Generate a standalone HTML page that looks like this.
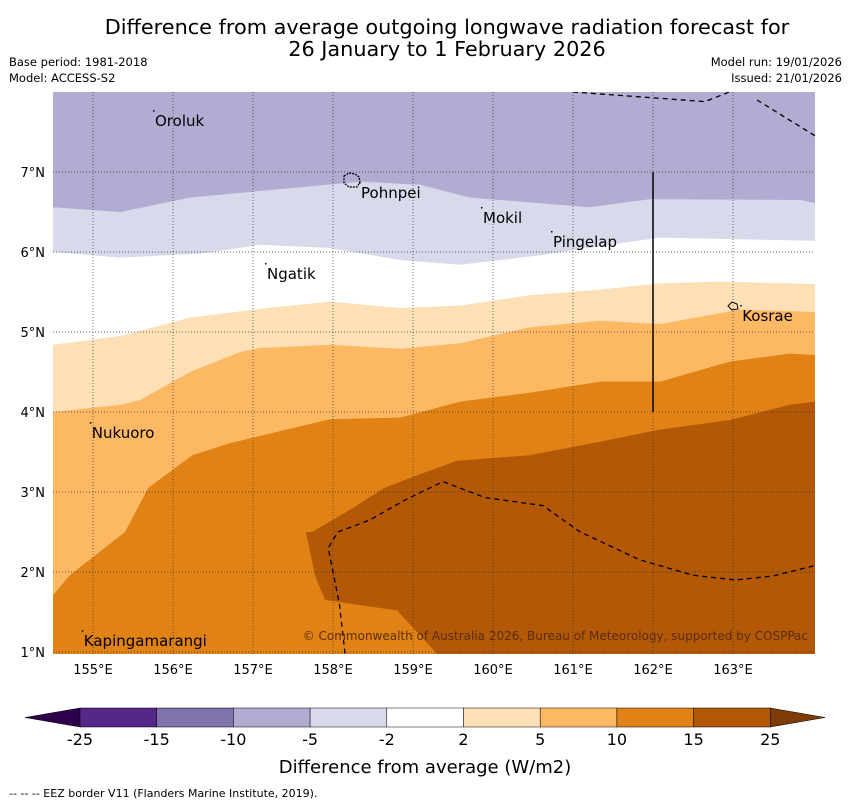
<!DOCTYPE html>
<html><head><meta charset="utf-8"><style>
body{margin:0;background:#fff;width:850px;height:804px;overflow:hidden;font-family:"Liberation Sans","DejaVu Sans",sans-serif}
</style></head><body>
<svg id="chart" width="850" height="804" xmlns="http://www.w3.org/2000/svg" font-family="DejaVu Sans, Liberation Sans, sans-serif">
<text x="447" y="34" font-size="20.8" text-anchor="middle">Difference from average outgoing longwave radiation forecast for</text>
<text x="447" y="56" font-size="20.8" text-anchor="middle">26 January to 1 February 2026</text>
<text x="9" y="66" font-size="11.5">Base period: 1981-2018</text>
<text x="9" y="82" font-size="11.5">Model: ACCESS-S2</text>
<text x="842" y="66" font-size="11.5" text-anchor="end">Model run: 19/01/2026</text>
<text x="842" y="82" font-size="11.5" text-anchor="end">Issued: 21/01/2026</text>
<defs><clipPath id="mapclip"><rect x="53" y="92" width="762" height="562"/></clipPath></defs>
<g id="map" clip-path="url(#mapclip)"></g>
<g id="overlay"></g>
<g id="cbar"></g>
<text x="425" y="773" font-size="18" text-anchor="middle">Difference from average (W/m2)</text>
<text x="9" y="797" font-size="11">--  --  -- EEZ border V11 (Flanders Marine Institute, 2019).</text>
</svg>
<script>
const lonTicks=[155,156,157,158,159,160,161,162,163];
const latTicks=[1,2,3,4,5,6,7];
const b1Lon=[154.5,155.34,156.21,157.59,158.34,159.09,159.71,161.21,161.96,163.84,164.03];
const b1Lat=[6.56,6.5,6.68,6.81,6.88,6.84,6.68,6.56,6.66,6.65,6.61];
const b2Lon=[154.5,155.34,156.34,157.09,157.96,158.84,159.59,160.59,161.59,162.09,164.03];
const b2Lat=[6.0,5.93,5.98,6.09,6.05,5.9,5.84,5.96,6.11,6.18,6.14];
const b3Lon=[154.5,155.34,156.21,157.09,157.96,158.84,159.59,160.46,161.34,162.09,162.84,164.03];
const b3Lat=[4.84,4.95,5.18,5.29,5.38,5.3,5.33,5.46,5.53,5.61,5.63,5.6];
const b4Lon=[154.5,155.34,155.59,156.21,156.84,157.09,157.96,158.84,159.59,160.46,161.34,162.09,163.09,164.03];
const b4Lat=[4.0,4.09,4.15,4.5,4.75,4.8,4.84,4.79,4.86,5.06,5.14,5.1,5.28,5.25];
const b5Lon=[154.5,154.71,155.4,155.69,156.24,156.71,157.96,158.84,159.59,160.46,161.34,162.09,162.96,163.71,164.03];
const b5Lat=[1.71,1.96,2.5,3.05,3.46,3.61,3.91,3.93,4.13,4.24,4.38,4.38,4.63,4.73,4.71];
const b6Lon=[157.74,158.2,158.64,158.95,159.55,160.46,161.34,162.09,162.96,163.71,164.1,164.1,159.4,159.3,158.8,157.9,157.78,157.66];
const b6Lat=[2.5,2.77,3.05,3.17,3.39,3.46,3.63,3.78,3.9,4.09,4.14,0.9,0.9,0.98,1.52,1.65,1.94,2.5];
const eez1Lon=[158.15,158.08,157.94,158.06,158.46,158.9,159.375,159.9,160.625,161.09,161.84,162.5,163.03,163.5,164.1];
const eez1Lat=[0.98,1.6,2.3,2.5,2.65,2.9,3.13,2.93,2.83,2.5,2.15,1.96,1.9,1.95,2.1];
const eez2Lon=[161.0,162.65,163.03];const eez2Lat=[8.0,7.88,8.03];
const eez3Lon=[163.3,164.03];const eez3Lat=[7.9,7.45];
const placeNames=["Oroluk","Pohnpei","Mokil","Pingelap","Ngatik","Kosrae","Nukuoro","Kapingamarangi"];
const placeLon=[155.75,158.325,159.85,160.725,157.15,163.09,154.96,154.86];
const placeLat=[7.71,6.81,6.5,6.2,5.8,5.275,3.81,1.21];
const cbLabels=["-25","-15","-10","-5","-2","2","5","10","15","25"];
const cbColors=["#542788","#8073ac","#b2abd2","#d8daeb","#ffffff","#fee0b6","#fdb863","#e08214","#b35806"];

const X=lon=>53+(lon-154.5)*80, Y=lat=>92+(8-lat)*80;
const NS="http://www.w3.org/2000/svg";
function mk(tag,attrs,parent){const e=document.createElementNS(NS,tag);for(const k in attrs)e.setAttribute(k,attrs[k]);parent.appendChild(e);return e;}
const map=document.getElementById('map'),ov=document.getElementById('overlay'),cb=document.getElementById('cbar');
function pts(lo,la){return lo.map((v,i)=>X(v)+','+Y(la[i])).join(' ');}
let bg=mk('rect',{x:53,y:92,width:762,height:562,fill:'#b2abd2'},map);


const bands=[[b1Lon,b1Lat,'#d8daeb','band-minus5-to-minus2'],[b2Lon,b2Lat,'#ffffff','band-minus2-to-2'],[b3Lon,b3Lat,'#fee0b6','band-2-to-5'],[b4Lon,b4Lat,'#fdb863','band-5-to-10'],[b5Lon,b5Lat,'#e08214','band-10-to-15']];
bands.forEach(b=>{
  const p=pts(b[0],b[1])+' '+X(164.1)+','+Y(0.9)+' '+X(154.4)+','+Y(0.9);
  const e=mk('polygon',{points:p,fill:b[2]},map);
  
  
});
let b6=mk('polygon',{points:pts(b6Lon,b6Lat),fill:'#b35806'},map);


lonTicks.forEach(l=>{const e=mk('line',{x1:X(l),x2:X(l),y1:92,y2:654,stroke:'#333','stroke-width':0.7,'stroke-dasharray':'1,2'},map);
  
  
  const t=mk('text',{x:X(l),y:674,'font-size':13,'text-anchor':'middle'},ov);t.textContent=l+'°E';
  
  });
latTicks.forEach(l=>{const e=mk('line',{x1:53,x2:815,y1:Y(l),y2:Y(l),stroke:'#333','stroke-width':0.7,'stroke-dasharray':'1,2'},map);
  
  
  const t=mk('text',{x:45,y:Y(l)+5,'font-size':13,'text-anchor':'end'},ov);t.textContent=l+'°N';
  
  });
[[eez1Lon,eez1Lat],[eez2Lon,eez2Lat],[eez3Lon,eez3Lat]].forEach(d=>{
  const e=mk('polyline',{points:pts(d[0],d[1]),fill:'none',stroke:'#000','stroke-width':1.3,'stroke-dasharray':'5,4'},map);
  
  
});
let vl=mk('line',{x1:X(162),x2:X(162),y1:Y(7),y2:Y(4),stroke:'#000','stroke-width':1.5},map);


let pi=mk('path',{d:'M344,176 l5,-3 l6,1 l4,3 l1,5 l-3,5 l-8,0 l-5,-4 z',fill:'none',stroke:'#000','stroke-width':1.2,'stroke-dasharray':'2,1'},map);


let ki=mk('path',{d:'M728,306 l4,-4 l5,2 l1,5 l-6,1 z',fill:'none',stroke:'#000','stroke-width':1},map);


placeNames.forEach((n,i)=>{
  const x=X(placeLon[i])+2,y=Y(placeLat[i])+11;
  const t=mk('text',{x:x,y:y,'font-size':15},ov);t.textContent=n;
  
  
  const d=mk('rect',{x:x-2,y:y-16,width:1.5,height:1.5,fill:'#000'},ov);
  
  
});
let cp=mk('text',{x:808,y:640,'font-size':12,'text-anchor':'end',fill:'#5a2d05'},ov);
cp.textContent='© Commonwealth of Australia 2026, Bureau of Meteorology, supported by COSPPac';


const cx0=80,cw=76.7,cy=708,ch=19;
let lt=mk('polygon',{points:`${cx0},${cy} ${cx0},${cy+ch} 25,${cy+ch/2}`,fill:'#2d004b',stroke:'#000','stroke-width':0.5},cb);


cbColors.forEach((c,i)=>{const e=mk('rect',{x:cx0+i*cw,y:cy,width:cw,height:ch,fill:c,stroke:'#000','stroke-width':0.5},cb);
  
  });
let rt=mk('polygon',{points:`${cx0+9*cw},${cy} ${cx0+9*cw},${cy+ch} 825,${cy+ch/2}`,fill:'#7f3b08',stroke:'#000','stroke-width':0.5},cb);


cbLabels.forEach((l,i)=>{const t=mk('text',{x:cx0+i*cw,y:745,'font-size':16,'text-anchor':'middle'},cb);t.textContent=l;
  
  });
</script>
</body></html>
